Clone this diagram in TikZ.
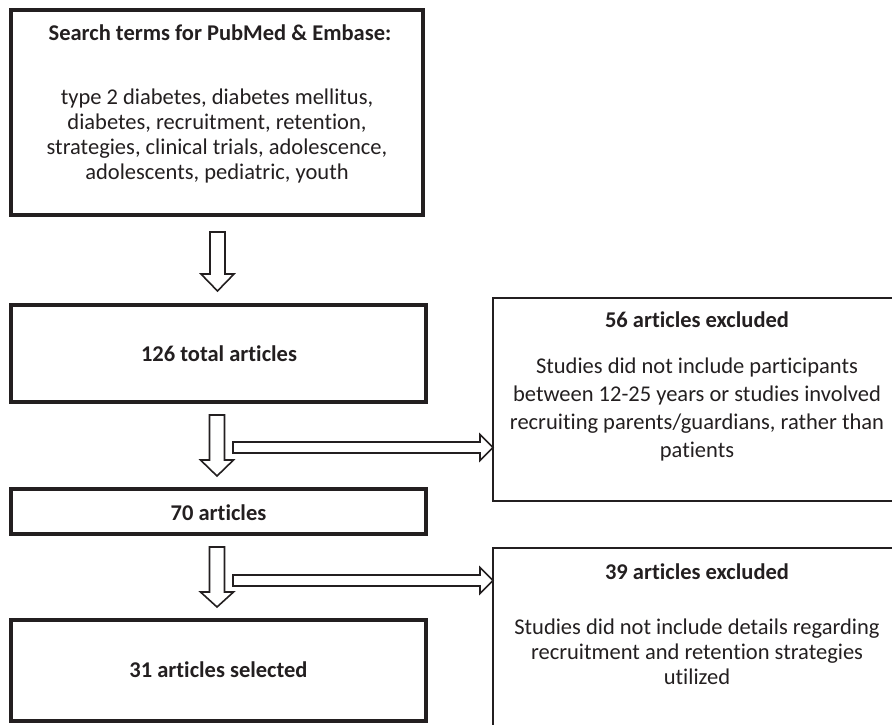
\documentclass[tikz,border=0pt]{standalone}
\usepackage{fontspec}
\setmainfont{Carlito}[Ligatures=NoCommon]
\usetikzlibrary{calc}
\definecolor{ink}{HTML}{231F20}
\newcommand\DownBlock[4]{% x, top, head start, tip
  \draw[blockarrow] ({#1-7.5},#2) -- ({#1+7.5},#2) -- ({#1+7.5},#3) -- ({#1+16.5},#3)
    -- (#1,#4) -- ({#1-16.5},#3) -- ({#1-7.5},#3) -- cycle;}
\newcommand\RightBlock[4]{% y, left, head start, tip
  \draw[blockarrow] (#2,{#1-5.5}) -- (#3,{#1-5.5}) -- (#3,{#1-13}) -- (#4,#1)
    -- (#3,{#1+13}) -- (#3,{#1+5.5}) -- (#2,{#1+5.5}) -- cycle;}
\begin{document}
\begin{tikzpicture}[x=1pt,y=-1pt,
  mainbox/.style={draw=ink, line width=4pt, fill=white, inner sep=0pt},
  sidebox/.style={draw=ink, line width=2pt, inner sep=0pt},
  blockarrow/.style={draw=ink, line width=1.6pt, fill=white, line join=miter},
  txt/.style={text=ink, align=center, inner sep=0pt, font=\fontsize{22.5}{25}\selectfont},
  txtwide/.style={text=ink, align=center, inner sep=0pt, font=\fontsize{22.5}{28}\selectfont},
  bold/.style={text=ink, align=center, inner sep=0pt, font=\fontsize{22.5}{25}\selectfont\bfseries}]
\useasboundingbox (0,0) rectangle (892,724);
\clip (0,0) rectangle (892,724);
\fill[white] (0,0) rectangle (892,724);
% main column boxes
\node[mainbox, minimum width=412pt, minimum height=205pt] (search) at (217,112.5) {};
\node[bold] (searchtitle) at (220,33) {Search terms for PubMed \& Embase:};
\node[txt] (searchbody) at (217,136) {type 2 diabetes, diabetes mellitus,\\diabetes, recruitment, retention,\\strategies, clinical trials, adolescence,\\adolescents, pediatric, youth};
\node[mainbox, minimum width=415pt, minimum height=97pt] (total) at (218.5,353.5) {};
\node[bold] (totaltext) at (219,354) {126 total articles};
\node[mainbox, minimum width=415pt, minimum height=45pt] (seventy) at (218.5,511.5) {};
\node[bold] (seventytext) at (218.5,513) {70 articles};
\node[mainbox, minimum width=415pt, minimum height=101pt] (selected) at (218.5,670.5) {};
\node[bold] (selectedtext) at (218.5,670) {31 articles selected};
% exclusion boxes
\node[sidebox, minimum width=410pt, minimum height=203pt] (excl1) at (698,399.5) {};
\node[bold] (excl1title) at (697,320) {56 articles excluded};
\node[txtwide] (excl1body) at (697,409) {Studies did not include participants\\between 12-25 years or studies involved\\recruiting parents/guardians, rather than\\patients};
\node[sidebox, minimum width=410pt, minimum height=190pt] (excl2) at (698,643) {};
\node[bold] (excl2title) at (697,572) {39 articles excluded};
\node[txt] (excl2body) at (697,652) {Studies did not include details regarding\\recruitment and retention strategies\\utilized};
% block arrows
\DownBlock{217.5}{232}{274}{291}
\DownBlock{217}{415}{460}{476}
\DownBlock{217}{547}{592}{607}
\RightBlock{447.5}{233}{480}{493}
\RightBlock{580.5}{233}{480}{493}
\end{tikzpicture}
\end{document}
